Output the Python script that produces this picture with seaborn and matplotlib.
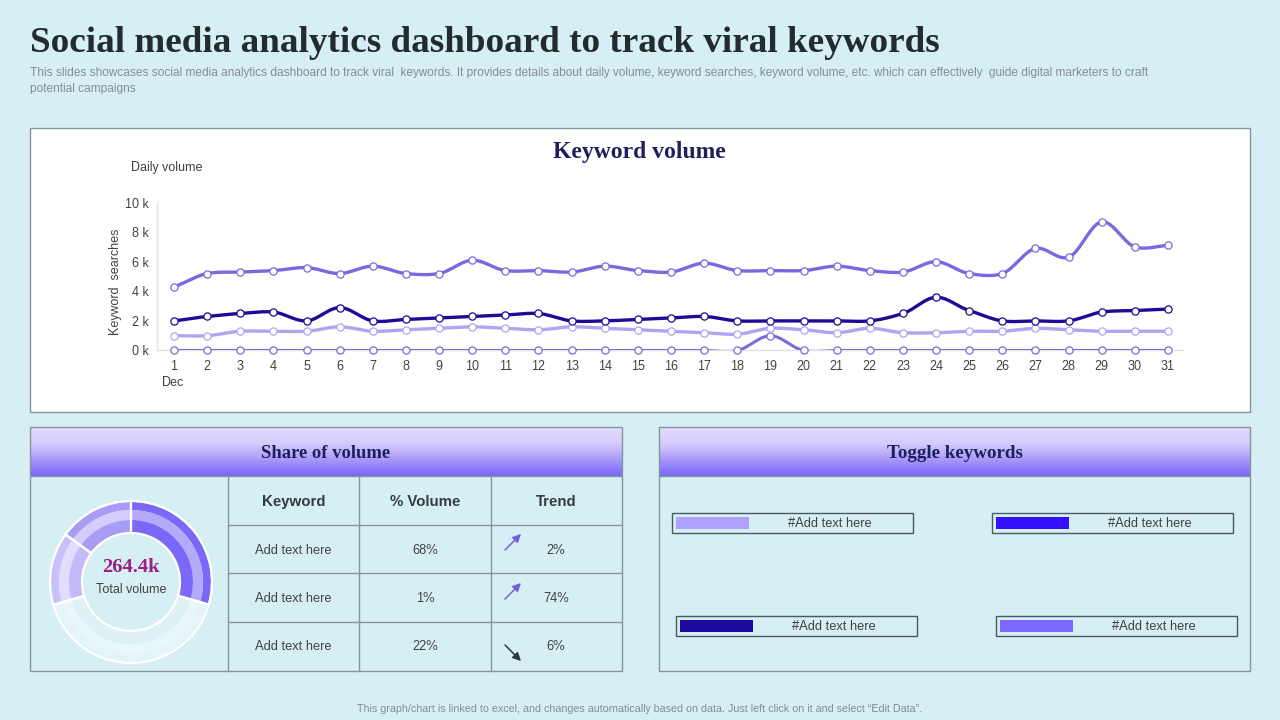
import numpy as np
import pandas as pd
import matplotlib
matplotlib.use("Agg")
import matplotlib.pyplot as plt
from matplotlib.patches import Rectangle
import seaborn as sns

# chart data (thousands of searches)
days = list(range(1, 32))
series_top = [4.3, 5.2, 5.3, 5.4, 5.6, 5.2, 5.7, 5.2, 5.2, 6.1, 5.4, 5.4, 5.3, 5.7, 5.4, 5.3,
              5.9, 5.4, 5.4, 5.4, 5.7, 5.4, 5.3, 6.0, 5.2, 5.2, 6.9, 6.3, 8.7, 7.0, 7.1]
series_dark = [2.0, 2.3, 2.5, 2.6, 2.0, 2.9, 2.0, 2.1, 2.2, 2.3, 2.4, 2.5, 2.0, 2.0, 2.1, 2.2,
               2.3, 2.0, 2.0, 2.0, 2.0, 2.0, 2.5, 3.6, 2.7, 2.0, 2.0, 2.0, 2.6, 2.7, 2.8]
series_light = [1.0, 1.0, 1.3, 1.3, 1.3, 1.6, 1.3, 1.4, 1.5, 1.6, 1.5, 1.4, 1.6, 1.5, 1.4, 1.3,
                1.2, 1.1, 1.5, 1.4, 1.2, 1.5, 1.2, 1.2, 1.3, 1.3, 1.5, 1.4, 1.3, 1.3, 1.3]
series_zero = [0, 0, 0, 0, 0, 0, 0, 0, 0, 0, 0, 0, 0, 0, 0, 0,
               0, 0, 1.0, 0, 0, 0, 0, 0, 0, 0, 0, 0, 0, 0, 0]
y_ticks = [0, 2, 4, 6, 8, 10]

share_values = [78.0, 108.2, 38.5, 39.7]
total_label = "264.4k"

table_header = ["Keyword", "% Volume", "Trend"]
table_keywords = ["Add text here", "Add text here", "Add text here"]
table_volume = ["68%", "1%", "22%"]
table_trend = ["2%", "74%", "6%"]
table_up = [True, True, False]

BG = "#D6EFF5"
LINE = "#85949A"
SERIF = "Liberation Serif"
SANS = "Liberation Sans"


def smooth(x, y, steps=12):
    # cardinal spline through the points, only for the drawn curve
    x = np.asarray(x, dtype=float)
    y = np.asarray(y, dtype=float)
    m = np.gradient(y, x) * 0.85
    xs, ys = [], []
    for i in range(len(x) - 1):
        t = np.linspace(0, 1, steps, endpoint=False)
        h00 = 2 * t**3 - 3 * t**2 + 1
        h10 = t**3 - 2 * t**2 + t
        h01 = -2 * t**3 + 3 * t**2
        h11 = t**3 - t**2
        xs.extend(x[i] + t)
        ys.extend(h00 * y[i] + h10 * m[i] + h01 * y[i + 1] + h11 * m[i + 1])
    xs.append(x[-1])
    ys.append(y[-1])
    return xs, ys


sns.set_theme(style="white")
plt.rcParams["font.family"] = [SANS, "DejaVu Sans"]
plt.rcParams["text.hinting"] = "default"

fig = plt.figure(figsize=(12.8, 7.2), dpi=100, facecolor=BG)

# full page layer in pixel units for panels, table and texts
page = fig.add_axes([0, 0, 1, 1])
page.set_xlim(0, 1280)
page.set_ylim(720, 0)
page.axis("off")

page.text(30, 43, "Social media analytics dashboard to track viral keywords", family=SERIF,
          weight="bold", fontsize=26.7, color="#222B2E", va="center")
page.text(30, 73, "This slides showcases social media analytics dashboard to track viral  keywords. "
          "It provides details about daily volume, keyword searches, keyword volume, etc. which can "
          "effectively  guide digital marketers to craft", fontsize=8.6, color="#7F8C92", va="center")
page.text(30, 88, "potential campaigns", fontsize=8.6, color="#7F8C92", va="center")
page.text(640, 709.5, "This graph/chart is linked to excel, and changes automatically based on data. "
          "Just left click on it and select \u201cEdit Data\u201d.", fontsize=7.75, color="#7F8C92",
          ha="center", va="center")

# keyword volume panel
page.add_patch(Rectangle((30, 128), 1219.5, 284, fc="white", ec=LINE, lw=1))
page.text(639, 152, "Keyword volume", family=SERIF, weight="bold", fontsize=17, color="#1F1F5C",
          ha="center", va="center")
page.text(131, 167.5, "Daily volume", fontsize=9, color="#404040", va="center")
page.text(116, 282, "Keyword  searches", fontsize=9, color="#404040", rotation=90,
          ha="center", va="center")
page.text(162, 382.5, "Dec", fontsize=9, color="#404040", va="center")

# lower panels with gradient headers
grad = np.linspace(0, 1, 100)[:, None]
cmap = matplotlib.colors.LinearSegmentedColormap.from_list(
    "head", ["#E3DCFD", "#D6CCFC", "#A999FA", "#7A66F8"])
for left, right, label, size in [(30, 622, "Share of volume", 13.4), (659, 1250, "Toggle keywords", 13.7)]:
    page.imshow(grad, extent=(left, right, 476, 427), aspect="auto", cmap=cmap, zorder=1)
    page.add_patch(Rectangle((left, 427), right - left, 244, fc="none", ec=LINE, lw=1, zorder=2))
    page.plot([left, right], [476, 476], color=LINE, lw=1, zorder=2)
    page.text((left + right) / 2, 453, label, family=SERIF, weight="bold", fontsize=size,
              color="#1F1F5C", ha="center", va="center", zorder=3)
page.set_xlim(0, 1280)
page.set_ylim(720, 0)

# table
for x in [228, 359, 491]:
    page.plot([x, x], [476, 671], color=LINE, lw=1, zorder=2)
for y in [525, 573, 622]:
    page.plot([228, 622], [y, y], color=LINE, lw=1, zorder=2)
col_x = [293.5, 425, 556]
row_y = [550, 599, 647]
for x, label in zip(col_x, table_header):
    page.text(x, 502, label, fontsize=10.8, weight="bold", color="#333B3F", ha="center", va="center")
for i, y in enumerate(row_y):
    page.text(col_x[0], y, table_keywords[i], fontsize=9.3, color="#404040", ha="center", va="center")
    page.text(col_x[1], y, table_volume[i], fontsize=9.3, color="#404040", ha="center", va="center")
    page.text(col_x[2], y, table_trend[i], fontsize=9.3, color="#404040", ha="center", va="center")
    if table_up[i]:
        start, end, col = (505, y), (521, y - 16), "#6F60DC"
    else:
        start, end, col = (505, y - 2), (521, y + 14), "#2B383E"
    page.annotate("", xy=end, xytext=start,
                  arrowprops=dict(arrowstyle="-|>", color=col, lw=1.1, mutation_scale=12,
                                  shrinkA=0, shrinkB=0))

# toggle keywords
toggle_boxes = [(672, 513), (992, 513), (676, 616), (996, 616)]
toggle_colors = ["#AFA1FF", "#3310FF", "#1E0A9E", "#7B68FF"]
toggle_labels = ["#Add text here"] * 4
for (bx, by), col, label in zip(toggle_boxes, toggle_colors, toggle_labels):
    page.add_patch(Rectangle((bx, by), 240.5, 19.5, fc="none", ec="#4A5A62", lw=1))
    page.add_patch(Rectangle((bx + 3.5, by + 3.5), 73, 12.5, fc=col, ec="none"))
    page.text(bx + 158, by + 10.5, label, fontsize=9.3, color="#404040", ha="center", va="center")

# line chart
ax = fig.add_axes([157 / 1280, 1 - 350.5 / 720, (1183 - 157) / 1280, (350.5 - 202.5) / 720])
ax.patch.set_alpha(0)
line_styles = [
    (series_zero, "#7B6BD6", 2.2),
    (series_light, "#B0A5F2", 2.4),
    (series_dark, "#1E0A96", 2.4),
    (series_top, "#7A68E0", 2.4),
]
for values, col, lw in line_styles:
    xs, ys = smooth(days, values)
    curve = pd.DataFrame({"day": xs, "value": ys})
    points = pd.DataFrame({"day": days, "value": values})
    sns.lineplot(data=curve, x="day", y="value", color=col, lw=lw, ax=ax, zorder=3)
    sns.scatterplot(data=points, x="day", y="value", color="white", edgecolor=col, linewidth=0.9,
                    s=27, ax=ax, zorder=4, clip_on=False)
ax.set_xlim(1 - 17 / 33.13, 31 + 15 / 33.13)
ax.set_ylim(0, 10)
ax.set_xticks(days)
ax.set_yticks(y_ticks)
ax.set_yticklabels([f"{v} k" for v in y_ticks])
ax.set_xlabel("")
ax.set_ylabel("")
ax.tick_params(axis="x", length=0, labelsize=9, labelcolor="#404040", pad=13.7)
ax.tick_params(axis="y", length=0, labelsize=9, labelcolor="#404040", pad=6)
# same baseline for every day label
for label in ax.get_xticklabels():
    label.set_va("baseline")
for side in ["top", "right"]:
    ax.spines[side].set_visible(False)
for side in ["left", "bottom"]:
    ax.spines[side].set_color("#E2E2E2")
    ax.spines[side].set_linewidth(1)

# donut, three rings per slice
donut = fig.add_axes([(131 - 85) / 1280, 1 - (582 + 85) / 720, 170 / 1280, 170 / 720])
ring_colors = [
    (["#7B68F8", "#E4F5F9", "#C9C0FA", "#A99CF6"], 80, 8),
    (["#B5A9FA", "#EAF7FA", "#E2DDFD", "#D4CDFB"], 72, 10),
    (["#7B68F8", "#DDF1F6", "#C4BAFA", "#A99CF6"], 62, 13),
]
for colors, radius, width in ring_colors:
    donut.pie(share_values, radius=radius, colors=colors, startangle=90, counterclock=False,
              wedgeprops=dict(width=width, linewidth=0))
# white outlines on top of the rings
donut.pie(share_values, radius=81, colors=["none"] * 4, startangle=90, counterclock=False,
          wedgeprops=dict(width=32, linewidth=1.6, edgecolor="white"))
donut.set_xlim(-85, 85)
donut.set_ylim(-85, 85)
donut.set_aspect("equal")
donut.axis("off")
donut.text(0, 15, total_label, family=SERIF, weight="bold", fontsize=14.7, color="#9B1F85",
           ha="center", va="center")
donut.text(0, -7.5, "Total volume", fontsize=9, color="#404040", ha="center", va="center")

fig.savefig("out.png", dpi=100, facecolor=BG)
